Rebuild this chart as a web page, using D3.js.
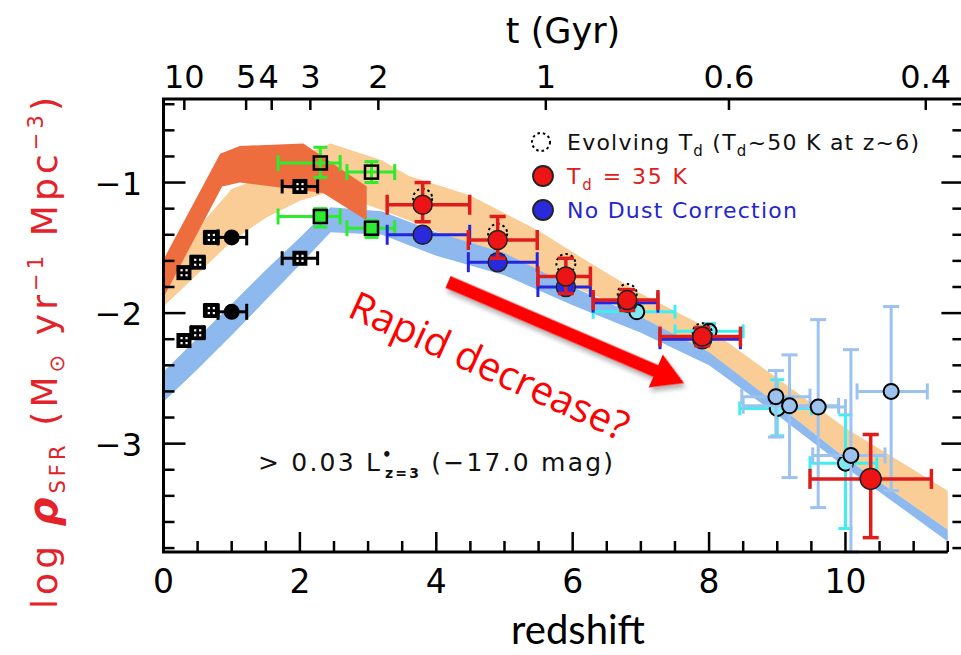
<!DOCTYPE html>
<html><head><meta charset="utf-8">
<script src="https://cdn.jsdelivr.net/npm/d3@7"></script>
<style>body{margin:0;background:#fff} svg{display:block}</style>
</head><body><svg id="c" width="961" height="655"></svg>
<script>
// ---------------- DATA ----------------
const xTickLabels = [0, 2, 4, 6, 8, 10];
const yTickLabels = [-1, -2, -3];
const ageTickLabels = [10, 5, 4, 3, 2, 1, 0.6, 0.4];

// model bands (redshift, log SFRD)
const orangeUpperZ = [0, 0.83, 1.12, 2.05, 2.98];
const orangeUpper  = [-1.59, -0.78, -0.72, -0.70, -1.03];
const orangeLowerZ = [0, 0.86, 1.12, 2.34, 2.98];
const orangeLower  = [-1.88, -1.03, -1.00, -1.08, -1.29];

const beigeZ     = [0, 0.5, 1, 1.5, 2, 2.45, 3.2, 3.6, 4.5, 5.5, 6.3, 7, 8, 9, 10, 11.5];
const beigeUpper = [-1.75, -1.35, -1.05, -0.95, -0.80, -0.70, -0.83, -0.95, -1.10, -1.37, -1.63, -1.85, -2.12, -2.50, -2.88, -3.36];
const beigeLower = [-1.95, -1.70, -1.45, -1.27, -1.14, -1.07, -1.21, -1.29, -1.48, -1.69, -1.86, -2.03, -2.31, -2.70, -3.11, -3.66];

const blueZ     = [0, 0.5, 1, 1.5, 2, 2.45, 3.2, 4, 5, 6, 7, 8, 9, 10, 11.5];
const blueUpper = [-2.45, -2.19, -1.93, -1.67, -1.42, -1.19, -1.22, -1.38, -1.54, -1.80, -2.03, -2.30, -2.70, -3.11, -3.66];
const blueLower = [-2.68, -2.43, -2.17, -1.90, -1.63, -1.38, -1.40, -1.56, -1.71, -1.94, -2.15, -2.40, -2.78, -3.18, -3.75];

// black (low-z) points
const blackUpSqZ  = [0.3, 0.5, 0.7, 2.0];
const blackUpSqV  = [-1.69, -1.61, -1.42, -1.03];
const blackLoSqZ  = [0.3, 0.5, 0.7, 2.0];
const blackLoSqV  = [-2.21, -2.15, -1.98, -1.58];
const blackSqZlo  = [0.22, 0.4, 0.6, 1.74];
const blackSqZhi  = [0.38, 0.6, 0.8, 2.26];
const blackCircZ  = [1.0, 1.0];
const blackCircV  = [-1.42, -1.99];
const blackCircZlo = [0.8, 0.8];
const blackCircZhi = [1.22, 1.22];

// green squares
const greenZ     = [2.3, 3.05];
const greenZlo   = [1.68, 2.69];
const greenZhi   = [2.59, 3.39];
const greenUpV   = [-0.85, -0.92];
const greenUpHi  = [-0.73, -0.84];
const greenUpLo  = [-0.96, -1.00];
const greenLoV   = [-1.26, -1.35];
const greenLoHi  = [-1.20, -1.29];
const greenLoLo  = [-1.34, -1.42];

// Td = 35 K (red)
const redZ   = [3.8, 4.9, 5.9, 6.8, 7.9, 10.37];
const redV   = [-1.17, -1.44, -1.72, -1.90, -2.18, -3.27];
const redZlo = [3.28, 4.47, 5.49, 6.30, 7.28, 9.48];
const redZhi = [4.49, 5.48, 6.26, 7.25, 8.46, 11.26];
const redHi  = [-1.00, -1.26, -1.58, -1.82, -2.11, -2.93];
const redLo  = [-1.30, -1.58, -1.85, -1.98, -2.25, -3.72];

// no dust correction (blue)
const blueDZ  = [3.8, 4.9, 5.9, 6.8, 7.9];
const blueDV  = [-1.40, -1.61, -1.80, -1.92, -2.20];
const blueDHi = [-1.36, -1.56, -1.76, -1.88, -2.16];
const blueDLo = [-1.44, -1.66, -1.84, -1.96, -2.24];

// evolving Td (dotted)
const evoZ = [3.8, 4.9, 5.9, 6.8, 7.9];
const evoV = [-1.12, -1.39, -1.62, -1.85, -2.15];

// cyan points
const cyanZ   = [6.94, 8.0, 9.0, 10.0];
const cyanV   = [-1.99, -2.14, -2.73, -3.15];
const cyanZlo = [6.30, 7.50, 8.45, 9.48];
const cyanZhi = [7.50, 8.50, 9.50, 10.46];
const cyanHi  = [-1.95, -2.08, -2.51, -2.78];
const cyanLo  = [-2.03, -2.20, -2.94, -3.65];

// light blue high-z points
const lbZ   = [8.98, 9.18, 9.60, 10.08, 10.67];
const lbV   = [-2.64, -2.71, -2.72, -3.09, -2.60];
const lbZlo = [8.48, 8.50, 9.20, 9.52, 10.17];
const lbZhi = [9.48, 9.90, 10.00, 10.58, 11.20];
const lbHi  = [-2.44, -2.32, -2.05, -2.28, -1.95];
const lbLo  = [-2.95, -3.26, -3.49, -3.83, -3.36];

// ---------------- DRAW ----------------
const svg = d3.select('#c');
const x = d3.scaleLinear().domain([0, 11.7]).range([163.5, 961.4]);
const y = d3.scaleLinear().domain([-3.83, -0.36]).range([552, 99]);
const FONT = "'DejaVu Sans', sans-serif";

const defs = svg.append('defs');
const f = defs.append('filter').attr('id','sh').attr('x','-20%').attr('y','-50%').attr('width','140%').attr('height','200%');
f.append('feDropShadow').attr('dx',3).attr('dy',3).attr('stdDeviation',2.5).attr('flood-color','#777').attr('flood-opacity',0.6);

const line = d3.line().x(d => x(d[0])).y(d => y(d[1]));
function band(zU, vU, zL, vL, color) {
  const pts = zU.map((z,i)=>[z, vU[i]]).concat(zL.map((z,i)=>[z, vL[i]]).reverse());
  svg.append('path').attr('d', line(pts) + 'Z').attr('fill', color).attr('stroke','none');
}
band(beigeZ, beigeUpper, beigeZ, beigeLower, '#F9CD95');
band(blueZ, blueUpper, blueZ, blueLower, '#8DB9EF');
band(orangeUpperZ, orangeUpper, orangeLowerZ, orangeLower, '#EE6D3F');

const g = svg.append('g');
function hbar(z0, z1, v, color, w, cap) {
  g.append('line').attr('x1', x(z0)).attr('x2', x(z1)).attr('y1', y(v)).attr('y2', y(v)).attr('stroke', color).attr('stroke-width', w);
  [z0, z1].forEach(z => g.append('line').attr('x1', x(z)).attr('x2', x(z)).attr('y1', y(v)-cap).attr('y2', y(v)+cap).attr('stroke', color).attr('stroke-width', w));
}
function vbar(z, v0, v1, color, w, cap) {
  g.append('line').attr('x1', x(z)).attr('x2', x(z)).attr('y1', y(v0)).attr('y2', y(v1)).attr('stroke', color).attr('stroke-width', w);
  [v0, v1].forEach(v => g.append('line').attr('x1', x(z)-cap).attr('x2', x(z)+cap).attr('y1', y(v)).attr('y2', y(v)).attr('stroke', color).attr('stroke-width', w));
}
function dotSquare(z, v) {
  const cx = x(z), cy = y(v), s = 15;
  g.append('rect').attr('x', cx-s/2).attr('y', cy-s/2).attr('width', s).attr('height', s).attr('fill', '#000');
  [[-3,-3],[2,-3],[-3,2],[2,2]].forEach(o => g.append('rect').attr('x', cx+o[0]-0.5).attr('y', cy+o[1]-0.5).attr('width', 2.2).attr('height', 2.2).attr('fill', '#fff'));
}

// black points
blackUpSqZ.forEach((z,i) => { hbar(blackSqZlo[i], blackSqZhi[i], blackUpSqV[i], '#000', 3, 7); });
blackLoSqZ.forEach((z,i) => { hbar(blackSqZlo[i], blackSqZhi[i], blackLoSqV[i], '#000', 3, 7); });
blackCircZ.forEach((z,i) => hbar(blackCircZlo[i], blackCircZhi[i], blackCircV[i], '#000', 3, 8));
blackUpSqZ.forEach((z,i) => dotSquare(z, blackUpSqV[i]));
blackLoSqZ.forEach((z,i) => dotSquare(z, blackLoSqV[i]));
blackCircZ.forEach((z,i) => g.append('circle').attr('cx', x(z)).attr('cy', y(blackCircV[i])).attr('r', 8).attr('fill', '#000'));

// green
greenZ.forEach((z,i) => {
  hbar(greenZlo[i], greenZhi[i], greenUpV[i], '#2DEB2D', 3, 8);
  vbar(z, greenUpHi[i], greenUpLo[i], '#2DEB2D', 3, 7);
  hbar(greenZlo[i], greenZhi[i], greenLoV[i], '#2DEB2D', 3, 8);
  vbar(z, greenLoHi[i], greenLoLo[i], '#2DEB2D', 3, 7);
});
greenZ.forEach((z,i) => {
  g.append('rect').attr('x', x(z)-6.5).attr('y', y(greenUpV[i])-6.5).attr('width', 13).attr('height', 13).attr('fill','none').attr('stroke','#000').attr('stroke-width',2.5);
  g.append('rect').attr('x', x(z)-6.5).attr('y', y(greenLoV[i])-6.5).attr('width', 13).attr('height', 13).attr('fill','#2DEB2D').attr('stroke','#000').attr('stroke-width',2.5);
});

// cyan
cyanZ.forEach((z,i) => { hbar(cyanZlo[i], cyanZhi[i], cyanV[i], '#3FEFEF', 3, 7); vbar(z, cyanHi[i], cyanLo[i], '#3FEFEF', 3, 7); });
cyanZ.forEach((z,i) => g.append('circle').attr('cx', x(z)).attr('cy', y(cyanV[i])).attr('r', 7.5).attr('fill', '#7FE9F2').attr('stroke','#000').attr('stroke-width',2));

// light blue
lbZ.forEach((z,i) => { hbar(lbZlo[i], lbZhi[i], lbV[i], '#9CC2EF', 3, 8); vbar(z, lbHi[i], lbLo[i], '#9CC2EF', 3, 8); });
lbZ.forEach((z,i) => g.append('circle').attr('cx', x(z)).attr('cy', y(lbV[i])).attr('r', 7.5).attr('fill', '#9DC2EE').attr('stroke','#000').attr('stroke-width',2));

// no dust (blue)
blueDZ.forEach((z,i) => { hbar(redZlo[i], redZhi[i], blueDV[i], '#2525DD', 3, 10); vbar(z, blueDHi[i], blueDLo[i], '#2525DD', 3, 7); });
blueDZ.forEach((z,i) => g.append('circle').attr('cx', x(z)).attr('cy', y(blueDV[i])).attr('r', 9.5).attr('fill', '#2A2ADB').attr('stroke','#222').attr('stroke-width',1.5));

// evolving Td (dotted)
evoZ.forEach((z,i) => g.append('circle').attr('cx', x(z)).attr('cy', y(evoV[i])).attr('r', 9.5).attr('fill', 'none').attr('stroke','#000').attr('stroke-width',2).attr('stroke-dasharray','2.5,3'));

// red Td=35K
redZ.forEach((z,i) => { hbar(redZlo[i], redZhi[i], redV[i], '#E01B1B', 3.5, 10); vbar(z, redHi[i], redLo[i], '#E01B1B', 3.5, 8); });
redZ.forEach((z,i) => g.append('circle').attr('cx', x(z)).attr('cy', y(redV[i])).attr('r', i === 5 ? 10.5 : 9.5).attr('fill', '#EC1414').attr('stroke','#222').attr('stroke-width',1.5));

// ---------------- AXES / FRAME ----------------
const ax = svg.append('g').attr('stroke', '#000');
const x0 = x(0), xR = 961.4, yT = y.range()[1], yB = y.range()[0];
ax.append('line').attr('x1', x0).attr('x2', x0).attr('y1', yT).attr('y2', yB).attr('stroke-width', 3);
ax.append('line').attr('x1', x0-1.5).attr('x2', x(11.5)).attr('y1', yB).attr('y2', yB).attr('stroke-width', 3);
ax.append('line').attr('x1', x0-1.5).attr('x2', xR).attr('y1', yT).attr('y2', yT).attr('stroke-width', 3);
// y ticks
d3.range(-3.8, -0.39, 0.2).forEach(v => {
  const major = Math.abs(v - Math.round(v)) < 1e-6;
  const L = major ? 22 : 11;
  ax.append('line').attr('x1', x0).attr('x2', x0 + L).attr('y1', y(v)).attr('y2', y(v)).attr('stroke-width', 2.5);
  ax.append('line').attr('x1', xR).attr('x2', xR - (major ? 20 : 9)).attr('y1', y(v)).attr('y2', y(v)).attr('stroke-width', 2.5);
});
// x ticks
d3.range(0.5, 11.51, 0.5).forEach(z => {
  const major = Math.abs(z/2 - Math.round(z/2)) < 1e-6;
  ax.append('line').attr('x1', x(z)).attr('x2', x(z)).attr('y1', yB).attr('y2', yB - (major ? 20 : 11)).attr('stroke-width', 2.5);
});
// top age axis (flat LCDM, H0=70, Om=0.3)
function zOfAge(t) {
  const tH = 977.8 / 70, OL = 0.7, Om = 0.3;
  const pre = 2 / (3 * Math.sqrt(OL)) * tH;
  const s = Math.sinh(t / pre) / Math.sqrt(OL / Om);
  return Math.pow(s, -2/3) - 1;
}
ageTickLabels.forEach(t => {
  const px = x(zOfAge(t));
  ax.append('line').attr('x1', px).attr('x2', px).attr('y1', yT).attr('y2', yT + 11).attr('stroke-width', 2.5);
  const lx = t === 5 ? px : (t === 4 ? px - 3 : px);
  svg.append('text').attr('x', lx).attr('y', 88).attr('text-anchor', 'middle').attr('font-family', FONT).attr('font-size', 32).text(t);
});
svg.append('text').attr('x', 563).attr('y', 43).attr('text-anchor', 'middle').attr('font-family', FONT).attr('font-size', 35).text('t (Gyr)');

xTickLabels.forEach(z => svg.append('text').attr('x', x(z)).attr('y', 593).attr('text-anchor','middle').attr('font-family', FONT).attr('font-size', 33).text(z));
yTickLabels.forEach(v => svg.append('text').attr('x', 142).attr('y', y(v) + 12).attr('text-anchor','end').attr('font-family', FONT).attr('font-size', 32).text('\u2212' + Math.abs(v)));

svg.append('text').attr('x', 578).attr('y', 644).attr('text-anchor','middle').attr('font-family', "Lato, 'Open Sans', sans-serif").attr('font-size', 40).text('redshift');

// y title
const yt = svg.append('text').attr('transform', 'translate(57,353) rotate(-90)').attr('text-anchor','middle')
  .attr('font-family', FONT).attr('font-size', 36).attr('fill', '#E3222A')
  .attr('textLength', 512).attr('lengthAdjust', 'spacing');
yt.append('tspan').text('log ');
yt.append('tspan').attr('font-style','italic').attr('font-weight','bold').attr('font-size', 40).text('\u03C1');
yt.append('tspan').attr('font-size', 21).attr('dy', 8).text('SFR');
yt.append('tspan').attr('dy', -8).text(' (M');
yt.append('tspan').attr('font-size', 21).attr('dy', 7).text('\u2299');
yt.append('tspan').attr('dy', -7).text(' yr');
yt.append('tspan').attr('font-size', 21).attr('dy', -14).text('\u22121');
yt.append('tspan').attr('dy', 14).text(' Mpc');
yt.append('tspan').attr('font-size', 21).attr('dy', -14).text('\u22123');
yt.append('tspan').attr('dy', 14).text(')');

// legend
svg.append('circle').attr('cx', 541).attr('cy', 142).attr('r', 9).attr('fill','none').attr('stroke','#000').attr('stroke-width',2).attr('stroke-dasharray','2.5,3');
svg.append('circle').attr('cx', 543).attr('cy', 176).attr('r', 10).attr('fill','#EC1414').attr('stroke','#222').attr('stroke-width',1.8);
svg.append('circle').attr('cx', 543).attr('cy', 210).attr('r', 10).attr('fill','#2A2ADB').attr('stroke','#222').attr('stroke-width',1.8);

function legText(yb, color, parts, len) {
  const t = svg.append('text').attr('x', 567).attr('y', yb).attr('font-family', FONT).attr('font-size', 22).attr('fill', color)
    .attr('textLength', len).attr('lengthAdjust', 'spacing');
  parts.forEach(p => {
    const s = t.append('tspan').text(p[0]);
    if (p[1] === 'sub') s.attr('font-size', 15).attr('dy', 6);
    if (p[1] === 'back') s.attr('dy', -6);
  });
}
legText(150, '#111', [['Evolving T'], ['d','sub'], [' (T','back'], ['d','sub'], ['~50 K at z~6)','back']], 352);
legText(184, '#E01B1B', [['T'], ['d','sub'], [' = 35 K','back']], 120);
legText(218, '#2525CC', [['No Dust Correction']], 230);

// luminosity limit annotation
const an = svg.append('text').attr('x', 258).attr('y', 471).attr('font-family', FONT).attr('font-size', 25).attr('fill', '#111')
  .attr('textLength', 355).attr('lengthAdjust', 'spacing');
an.append('tspan').text('> 0.03 L');
an.append('tspan').attr('font-size', 15).attr('font-weight','bold').attr('dy', -11).text('\u2022');
an.append('tspan').attr('font-size', 14).attr('font-weight','bold').attr('dx', -9).attr('dy', 18).text('z=3');
an.append('tspan').attr('dy', -7).text(' (\u221217.0 mag)');

// arrow
const arr = svg.append('g').attr('transform', 'translate(448,282) rotate(23.2)').attr('filter', 'url(#sh)');
arr.append('path').attr('d', 'M0,-6.5 L226,-6.5 L226,-18 L257,0 L226,18 L226,6.5 L0,6.5 Z').attr('fill', '#FF0000');

svg.append('text').attr('transform', 'translate(346,316) rotate(24.5)').attr('font-family', "'Open Sans', sans-serif")
  .attr('font-size', 40).attr('fill', '#FF0000').text('Rapid decrease?');
</script></body></html>
